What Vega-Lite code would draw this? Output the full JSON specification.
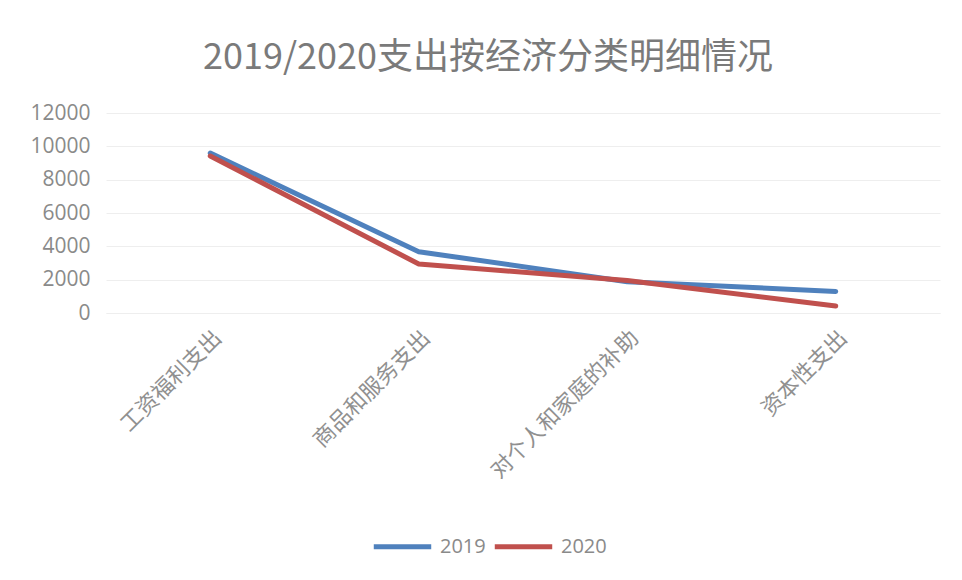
{
  "$schema": "https://vega.github.io/schema/vega-lite/v6.json",
  "autosize": "none",
  "width": 834,
  "height": 200,
  "padding": {"left": 106, "top": 113, "right": 22, "bottom": 267},
  "background": "white",
  "title": {
    "text": "2019/2020支出按经济分类明细情况",
    "font": "Noto Sans CJK SC",
    "fontSize": 36,
    "fontWeight": "normal",
    "color": "#7a7a7a",
    "anchor": "middle",
    "offset": 25,
    "dx": -35
  },
  "data": {
    "values": [
      {"category": "工资福利支出", "year": "2019", "value": 9600},
      {"category": "商品和服务支出", "year": "2019", "value": 3680},
      {"category": "对个人和家庭的补助", "year": "2019", "value": 1880},
      {"category": "资本性支出", "year": "2019", "value": 1290},
      {"category": "工资福利支出", "year": "2020", "value": 9420},
      {"category": "商品和服务支出", "year": "2020", "value": 2940},
      {"category": "对个人和家庭的补助", "year": "2020", "value": 1950},
      {"category": "资本性支出", "year": "2020", "value": 420}
    ]
  },
  "mark": {"type": "line", "strokeWidth": 5, "strokeCap": "round", "strokeJoin": "round"},
  "encoding": {
    "x": {
      "field": "category",
      "type": "nominal",
      "sort": null,
      "scale": {"type": "point", "padding": 0.5},
      "axis": {
        "title": null,
        "labelAngle": -45,
        "labelFont": "Noto Sans CJK SC",
        "labelFontSize": 22,
        "labelColor": "#909090",
        "labelLimit": 0,
        "ticks": false,
        "domain": true,
        "domainColor": "#eeeeee",
        "labelPadding": 14,
        "grid": false
      }
    },
    "y": {
      "field": "value",
      "type": "quantitative",
      "scale": {"domain": [0, 12000], "nice": false},
      "axis": {
        "title": null,
        "values": [0, 2000, 4000, 6000, 8000, 10000, 12000],
        "format": "d",
        "labelFont": "Open Sans",
        "labelFontSize": 21,
        "labelColor": "#8a8a8a",
        "labelPadding": 16,
        "ticks": false,
        "domain": false,
        "grid": true,
        "gridColor": "#eeeeee",
        "gridWidth": 1
      }
    },
    "color": {
      "field": "year",
      "type": "nominal",
      "scale": {"domain": ["2019", "2020"], "range": ["#4f81bd", "#c0504d"]},
      "legend": {
        "title": null,
        "orient": "none",
        "direction": "horizontal",
        "legendX": 265,
        "legendY": 402,
        "symbolType": "stroke",
        "symbolSize": 3300,
        "symbolStrokeWidth": 5,
        "labelFont": "Open Sans",
        "labelFontSize": 20,
        "labelColor": "#8a8a8a",
        "columnPadding": -2,
        "labelOffset": 6
      }
    }
  },
  "config": {"view": {"stroke": null}}
}
